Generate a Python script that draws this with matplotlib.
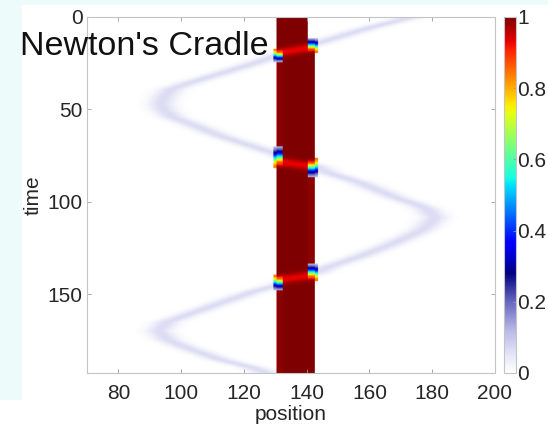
import numpy as np
import matplotlib
matplotlib.use("Agg")
import matplotlib.pyplot as plt
from matplotlib.colors import LinearSegmentedColormap
from matplotlib.patches import Rectangle

# ---------------- axes, ticks ----------------
position_range = [70, 200]
time_range = [0, 192.5]
x_ticks = [80, 100, 120, 140, 160, 180, 200]
y_ticks = [0, 50, 100, 150]
cbar_ticks = [0, 0.2, 0.4, 0.6, 0.8, 1]
cbar_labels = ["0", "0.2", "0.4", "0.6", "0.8", "1"]

# ---------------- resting chain of balls ----------------
chain_outer_left = 130.4
chain_inner_left = 132.5
chain_inner_right = 140.3
chain_outer_right = 142.7
chain_density = 1.0
residual_density = 0.99

# ---------------- swinging ball: centre position over time ----------------
swing_t = [0.0, 1.6, 6.1, 11.5, 14.5, 17.0, 20.5, 25.0, 30.5, 35.9, 39.0, 43.0,
           46.7, 50.5, 54.0, 57.1, 64.3, 70.1, 74.1, 77.5, 80.5, 84.0, 89.5,
           97.1, 102.0, 104.0, 108.5, 113.0, 116.0, 122.5, 129.5, 135.5, 138.5,
           141.0, 144.9, 148.5, 154.8, 161.1, 165.0, 169.8, 174.5, 179.1, 185.4,
           189.9, 192.5]
swing_x = [172.5, 169.7, 159.1, 148.5, 142.5, 137.0, 131.0, 123.1, 112.5, 101.9, 96.8, 94.6,
           93.5, 94.6, 97.2, 101.9, 112.5, 123.1, 130.5, 136.5, 142.7, 146.4, 157.0,
           167.6, 176.0, 178.5, 181.0, 178.5, 176.0, 167.6, 157.0, 146.4, 142.7,
           137.0, 131.1, 123.1, 112.5, 101.9, 95.5, 92.8, 95.5, 101.9, 112.5,
           123.1, 127.0]
swing_peak = 0.065
swing_halfwidth = 3.0

# ---------------- collisions ----------------
hit_side = ["right", "left", "right"]
arrive_blue_t = [13.3, 72.8, 135.8]
arrive_red_t = [17.5, 79.0, 140.7]
depart_red_t = [18.7, 78.5, 141.3]
depart_blue_t = [22.5, 84.0, 145.8]
wave_t_arrive_edge = [16.0, 78.0, 139.5]
wave_t_depart_edge = [19.5, 81.0, 142.3]
wave_dip = 0.07

# ---------------- colour map: white into navy, then jet ----------------
low = [(0.00, (1.0, 1.0, 1.0)), (0.05, (0.90, 0.90, 0.97)),
       (0.12, (0.72, 0.72, 0.90)), (0.20, (0.40, 0.40, 0.75))]
jet = plt.get_cmap("jet")
high = [(0.28 + 0.72 * f, jet(f)[:3]) for f in np.linspace(0, 1, 33)]
cmap = LinearSegmentedColormap.from_list("white_jet", low + high, N=512)

# ---------------- density field ----------------
dx = 0.25
xs = np.arange(position_range[0], position_range[1] + dx / 2, dx)
ts = np.arange(time_range[0], time_range[1] + dx / 2, dx)
X, T = np.meshgrid(xs, ts)


def strip_profile(t, side):
    """Density of one end slot of the chain over time, plus a mask of the
    moments when a ball is landing on it or leaving it."""
    events = []
    for k, s_ in enumerate(hit_side):
        if s_ == side:
            s = (arrive_red_t[k] - arrive_blue_t[k]) / 0.772
            t_full = arrive_red_t[k] + 0.325 * s
            events.append((t_full - 1.46 * s, t_full, "in", s))
        else:
            s = (depart_blue_t[k] - depart_red_t[k]) / 0.772
            t_full = depart_red_t[k] - 0.325 * s
            events.append((t_full, t_full + 1.46 * s, "out", s))
    events.sort()
    v = np.full_like(t, chain_density if side == "left" else 0.0)
    moving = np.zeros_like(t, dtype=bool)
    for a, b, kind, s in events:
        w = (t >= a) & (t < b)
        moving |= w
        if kind == "in":
            v[w] = np.exp(-((b - t[w]) / s) ** 2)
            v[t >= b] = chain_density
        else:
            v[w] = np.exp(-((t[w] - a) / s) ** 2)
            v[t >= b] = residual_density
    return v, moving


field = np.zeros_like(X)
core = (X >= chain_inner_left) & (X <= chain_inner_right)
field[core] = chain_density
left_v, left_mv = strip_profile(ts, "left")
right_v, right_mv = strip_profile(ts, "right")
lmask = (X >= chain_outer_left) & (X < chain_inner_left)
rmask = (X > chain_inner_right) & (X <= chain_outer_right)
field = np.where(lmask, left_v[:, None], field)
field = np.where(rmask, right_v[:, None], field)

# a landing / leaving ball bulges a little past the chain end
fringe = 0.9
lfr = (X >= chain_outer_left - fringe) & (X < chain_outer_left) & left_mv[:, None]
rfr = (X > chain_outer_right) & (X <= chain_outer_right + fringe) & right_mv[:, None]
field = np.where(lfr, 0.85 * left_v[:, None], field)
field = np.where(rfr, 0.85 * right_v[:, None], field)

# momentum wave crossing the chain
for k, s_ in enumerate(hit_side):
    if s_ == "right":
        x_a, x_d = chain_outer_right, chain_outer_left
    else:
        x_a, x_d = chain_outer_left, chain_outer_right
    frac = (X - x_a) / (x_d - x_a)
    t_line = wave_t_arrive_edge[k] + frac * (wave_t_depart_edge[k] - wave_t_arrive_edge[k])
    inside = (X >= chain_outer_left) & (X <= chain_outer_right) & (field > 0.9)
    field = np.where(inside, field - wave_dip * np.exp(-((T - t_line) / 2.4) ** 2), field)

centre = np.interp(T, swing_t, swing_x)
ball = swing_peak * np.exp(-0.5 * ((X - centre) / swing_halfwidth) ** 2)
field = np.maximum(field, ball)

# ---------------- figure ----------------
plt.rcParams["font.family"] = ["Liberation Sans", "DejaVu Sans"]
W, H = 548, 430
fig = plt.figure(figsize=(W / 100, H / 100), dpi=100, facecolor="white")
fig.add_artist(Rectangle((0, 30 / H), 22 / W, 1 - 30 / H, transform=fig.transFigure,
                         color="#edfbfb", zorder=-5, lw=0))
fig.add_artist(Rectangle((0, 1 - 5 / H), 1, 5 / H, transform=fig.transFigure,
                         color="#edfbfb", zorder=-5, lw=0))

ax = fig.add_axes([87 / W, (H - 373) / H, 408 / W, 356 / H])
cax = fig.add_axes([504 / W, (H - 373) / H, 12 / W, 356 / H])

im = ax.imshow(field, cmap=cmap, vmin=0, vmax=1, aspect="auto",
               extent=[position_range[0], position_range[1], time_range[1], time_range[0]],
               interpolation="bilinear")
ax.set_xlim(position_range)
ax.set_ylim(time_range[1], time_range[0])
ax.set_xticks(x_ticks)
ax.set_yticks(y_ticks)
edge = "#c4c4c8"
text_c = "#262626"
for sp in ax.spines.values():
    sp.set_color(edge)
    sp.set_linewidth(0.8)
ax.tick_params(direction="in", length=3, width=0.6, color="#9a9a9a",
               top=True, right=True, labelsize=15, labelcolor=text_c)
ax.tick_params(axis="x", pad=8)
ax.tick_params(axis="y", pad=3)
ax.set_xlabel("position", fontsize=15, color=text_c, labelpad=1)
ax.set_ylabel("time", fontsize=15, color=text_c, labelpad=4)

cb = fig.colorbar(im, cax=cax, ticks=cbar_ticks)
cb.ax.set_yticklabels(cbar_labels)
cb.outline.set_edgecolor(edge)
cb.outline.set_linewidth(0.8)
cb.ax.tick_params(direction="in", length=2.5, width=0.6, color="#9a9a9a",
                  labelsize=15, labelcolor=text_c, pad=1)

fig.text(20 / W, 1 - 55 / H, "Newton's Cradle", fontsize=24.5, color="#111111",
         ha="left", va="baseline")

fig.savefig("out.png", dpi=100, facecolor="white")
